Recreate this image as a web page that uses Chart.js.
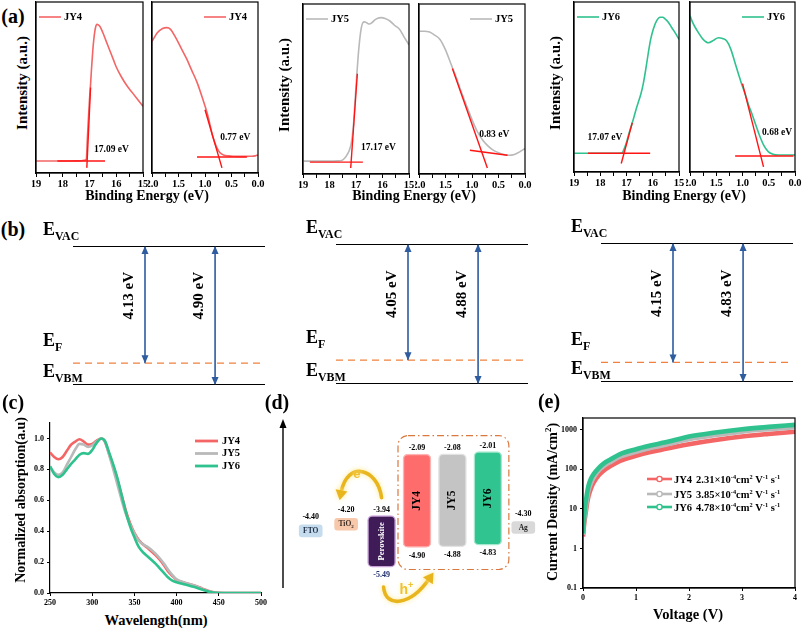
<!DOCTYPE html>
<html><head><meta charset="utf-8"><title>UPS / energy levels / absorption / SCLC</title>
<script src="https://cdn.jsdelivr.net/npm/chart.js@4.4.1/dist/chart.umd.min.js"></script>
<style>
html,body{margin:0;padding:0;background:#fff;}
body{width:803px;height:629px;overflow:hidden;position:relative;}
canvas{position:absolute;}
.t{position:absolute;font-family:"Liberation Serif","Times New Roman",serif;font-weight:bold;white-space:nowrap;color:#000;line-height:1;}
</style></head><body>
<script>
const FONT = '"Liberation Serif","Times New Roman",serif';
const SANS = '"Liberation Sans",Arial,sans-serif';

// ================= DATA =================
// (a) UPS spectra (normalised intensity)
const upsJY4SecoE = [19, 18.5, 18, 17.5, 17.3, 17.2, 17.12, 17.08, 17.04, 17.0, 16.96, 16.92, 16.88, 16.84, 16.8, 16.76, 16.72, 16.66, 16.6, 16.5, 16.4, 16.3, 16.2, 16.1, 16.0, 15.8, 15.6, 15.4, 15.2, 15.0];
const upsJY4SecoI = [0.07, 0.07, 0.07, 0.071, 0.072, 0.074, 0.08, 0.2, 0.32, 0.43, 0.52, 0.62, 0.71, 0.78, 0.83, 0.86, 0.87, 0.865, 0.855, 0.82, 0.78, 0.74, 0.70, 0.66, 0.62, 0.56, 0.51, 0.47, 0.43, 0.39];
const upsJY4VbE = [2.0, 1.9, 1.8, 1.72, 1.65, 1.55, 1.45, 1.35, 1.25, 1.15, 1.05, 0.95, 0.85, 0.78, 0.72, 0.65, 0.55, 0.45, 0.35, 0.25, 0.15, 0.05, 0.0];
const upsJY4VbI = [0.77, 0.82, 0.845, 0.85, 0.84, 0.79, 0.73, 0.67, 0.60, 0.53, 0.44, 0.34, 0.21, 0.15, 0.12, 0.105, 0.10, 0.098, 0.097, 0.097, 0.098, 0.10, 0.105];
const upsJY5SecoE = [19, 18.5, 18, 17.7, 17.54, 17.45, 17.35, 17.25, 17.18, 17.1, 17.04, 16.98, 16.92, 16.86, 16.8, 16.74, 16.68, 16.6, 16.5, 16.4, 16.3, 16.2, 16.05, 15.9, 15.72, 15.55, 15.35, 15.2, 15.0];
const upsJY5SecoI = [0.076, 0.076, 0.076, 0.077, 0.08, 0.09, 0.11, 0.14, 0.18, 0.28, 0.42, 0.56, 0.69, 0.79, 0.86, 0.89, 0.895, 0.89, 0.882, 0.89, 0.905, 0.915, 0.92, 0.915, 0.90, 0.875, 0.85, 0.81, 0.76];
const upsJY5VbE = [2.0, 1.9, 1.8, 1.72, 1.6, 1.5, 1.4, 1.3, 1.2, 1.1, 1.0, 0.9, 0.8, 0.7, 0.6, 0.5, 0.4, 0.3, 0.2, 0.1, 0.0];
const upsJY5VbI = [0.84, 0.84, 0.835, 0.82, 0.79, 0.73, 0.65, 0.57, 0.48, 0.40, 0.32, 0.25, 0.20, 0.165, 0.14, 0.125, 0.115, 0.11, 0.115, 0.13, 0.15];
const upsJY6SecoE = [19, 18.5, 18, 17.5, 17.17, 17.08, 16.99, 16.9, 16.8, 16.74, 16.65, 16.55, 16.45, 16.36, 16.27, 16.17, 16.08, 15.98, 15.85, 15.72, 15.62, 15.53, 15.4, 15.28, 15.15, 15.0];
const upsJY6SecoI = [0.11, 0.11, 0.11, 0.11, 0.112, 0.14, 0.18, 0.23, 0.28, 0.31, 0.36, 0.41, 0.46, 0.52, 0.60, 0.70, 0.78, 0.84, 0.89, 0.91, 0.91, 0.90, 0.88, 0.85, 0.82, 0.78];
const upsJY6VbE = [2.0, 1.95, 1.9, 1.84, 1.75, 1.65, 1.55, 1.46, 1.38, 1.3, 1.22, 1.14, 1.08, 1.02, 0.95, 0.88, 0.83, 0.75, 0.67, 0.6, 0.51, 0.42, 0.32, 0.2, 0.1, 0.0];
const upsJY6VbI = [0.92, 0.88, 0.85, 0.82, 0.78, 0.76, 0.775, 0.79, 0.785, 0.77, 0.72, 0.64, 0.58, 0.52, 0.46, 0.39, 0.35, 0.28, 0.21, 0.16, 0.12, 0.105, 0.10, 0.10, 0.10, 0.10];
// tangent lines [E1, I1, E2, I2]
const upsJY4SecoTan = [[18.2, 0.07, 16.42, 0.07], [16.96, 0.50, 17.10, 0.03]];
const upsJY4VbTan   = [[1.15, 0.094, 0.21, 0.094], [1.00, 0.37, 0.68, 0.03]];
const upsJY5SecoTan = [[18.74, 0.07, 16.74, 0.07], [16.95, 0.59, 17.20, 0.035]];
const upsJY5VbTan   = [[1.37, 0.62, 0.71, 0.035], [1.04, 0.14, 0.33, 0.11]];
const upsJY6SecoTan = [[18.47, 0.11, 16.10, 0.11], [16.78, 0.29, 17.20, 0.05]];
const upsJY6VbTan   = [[1.00, 0.52, 0.60, 0.03], [1.14, 0.094, 0.03, 0.094]];
const upsSecoOnset = [17.09, 17.17, 17.07];
const upsVbOnset = [0.77, 0.83, 0.68];

// (b) energy levels (eV below vacuum)
const bSamples = ['JY4', 'JY5', 'JY6'];
const bWorkFunction = [4.13, 4.05, 4.15];
const bVBM = [4.90, 4.88, 4.83];

// (c) normalised absorption
const absWavelength = [250, 255, 260, 265, 270, 275, 280, 285, 290, 295, 300, 305, 311, 315, 320, 325, 330, 335, 340, 345, 350, 355, 360, 365, 370, 375, 380, 385, 390, 395, 400, 410, 420, 430, 440, 450, 460, 480, 500];
const absJY4 = [0.91, 0.88, 0.865, 0.88, 0.92, 0.96, 0.98, 0.995, 0.98, 0.96, 0.965, 0.985, 1.0, 0.98, 0.90, 0.82, 0.73, 0.63, 0.53, 0.45, 0.39, 0.345, 0.315, 0.295, 0.27, 0.245, 0.215, 0.18, 0.14, 0.11, 0.085, 0.065, 0.05, 0.03, 0.01, 0.002, 0, 0, 0];
const absJY5 = [0.82, 0.78, 0.765, 0.78, 0.83, 0.88, 0.93, 0.965, 0.96, 0.945, 0.955, 0.98, 1.0, 0.98, 0.895, 0.80, 0.70, 0.60, 0.51, 0.44, 0.385, 0.34, 0.315, 0.30, 0.28, 0.255, 0.225, 0.19, 0.15, 0.115, 0.088, 0.066, 0.05, 0.028, 0.008, 0.001, 0, 0, 0];
const absJY6 = [0.82, 0.77, 0.75, 0.765, 0.80, 0.835, 0.865, 0.895, 0.905, 0.90, 0.925, 0.97, 1.0, 0.985, 0.91, 0.83, 0.74, 0.63, 0.52, 0.43, 0.36, 0.30, 0.265, 0.24, 0.215, 0.19, 0.16, 0.13, 0.10, 0.08, 0.07, 0.055, 0.04, 0.022, 0.006, 0, 0, 0, 0];

// (d) energy band alignment (eV)
const dMaterials = ['FTO', 'TiO2', 'Perovskite', 'JY4', 'JY5', 'JY6', 'Ag'];
const dWork = [-4.40, -4.20, null, null, null, null, -4.30];
const dLUMO = [null, null, -3.94, -2.09, -2.08, -2.01, null];
const dHOMO = [null, null, -5.49, -4.90, -4.88, -4.83, null];

// (e) SCLC J-V
const eVoltage = [0, 0.02, 0.04, 0.07, 0.1, 0.15, 0.2, 0.3, 0.4, 0.5, 0.7, 1.0, 1.25, 1.5, 1.75, 2.0, 2.5, 3.0, 3.5, 4.0];
const eJY4 = [2.0, 4.0, 6.3, 12, 20, 33, 46, 72, 96, 118, 165, 220, 270, 318, 375, 435, 555, 680, 790, 900];
const eJY5 = [2.2, 5, 8.5, 16, 28, 45, 62, 95, 125, 150, 210, 280, 345, 405, 490, 580, 740, 905, 1040, 1170];
const eJY6 = [2.4, 6, 11.5, 22, 37, 58, 76, 110, 145, 174, 245, 325, 395, 470, 560, 680, 860, 1040, 1190, 1340];
const eMobility = [2.31, 3.85, 4.78];
const eTicks = [0.1, 1, 10, 100, 1000];

// ================= STYLE =================
const COL = { JY4: '#f46565', JY5: '#b9b9b9', JY6: '#2fc28e' };
const TAN = '#ff1414';

// ================= HELPERS =================
function pts(xs, ys) { return xs.map((x, i) => ({ x: x, y: ys[i] })); }
function place(pl, pt, pr, pb, padL, padT, padR, padB) {
  const c = document.createElement('canvas');
  const w = Math.round((pr - pl) + padL + padR), h = Math.round((pb - pt) + padT + padB);
  c.width = w; c.height = h;
  c.style.left = (pl - padL) + 'px'; c.style.top = (pt - padT) + 'px';
  c.style.width = w + 'px'; c.style.height = h + 'px';
  document.body.appendChild(c);
  return c;
}
function fixW(w) { return s => { s.width = w; s.paddingTop = 0; s.paddingBottom = 0; }; }
function fixH(h) { return s => { s.height = h; s.paddingLeft = 0; s.paddingRight = 0; }; }
function txt(html, x, y, size, rot) {
  const d = document.createElement('div');
  d.className = 't'; d.innerHTML = html;
  d.style.left = x + 'px'; d.style.top = y + 'px'; d.style.fontSize = size + 'px';
  d.style.transform = 'translate(-50%,-50%)' + (rot ? ' rotate(-90deg)' : '');
  document.body.appendChild(d);
}
function frame(lw) {
  return { id: 'frame', afterDraw(ch) {
    const a = ch.chartArea, x = ch.ctx;
    x.save(); x.strokeStyle = '#000'; x.lineWidth = lw;
    x.strokeRect(a.left, a.top, a.right - a.left, a.bottom - a.top); x.restore();
  } };
}
function drawRich(ctx, x, y, str, size, ratio) {
  ratio = ratio || 0.62;
  const parts = []; const re = /([\^_])\{([^}]*)\}/g; let last = 0, m;
  while ((m = re.exec(str))) {
    if (m.index > last) parts.push([str.slice(last, m.index), 0]);
    parts.push([m[2], m[1] === '^' ? 1 : -1]); last = re.lastIndex;
  }
  if (last < str.length) parts.push([str.slice(last), 0]);
  let cx = x;
  ctx.textAlign = 'left'; ctx.textBaseline = 'alphabetic';
  for (const [t, k] of parts) {
    const s = k ? size * ratio : size;
    ctx.font = 'bold ' + s + 'px ' + FONT;
    const dy = k === 1 ? -size * 0.38 : (k === -1 ? size * 0.28 : 0);
    ctx.fillText(t, cx, y + dy);
    cx += ctx.measureText(t).width;
  }
  return cx - x;
}
const baseOpts = () => ({ responsive: false, devicePixelRatio: 1, animation: false, events: [],
  plugins: { legend: { display: false }, tooltip: { enabled: false } } });
const tickFont = s => ({ family: FONT, size: s, weight: 'bold' });

// ================= (a) UPS =================
const upsSpecs = [
  { box: [36, 2, 143, 173], lo: 15, hi: 19, step: 0.5, kind: 's', e: upsJY4SecoE, i: upsJY4SecoI, tan: upsJY4SecoTan, name: 'JY4', onset: upsSecoOnset[0], lab: [16.18, 0.135], legX: 3 },
  { box: [152, 2, 258, 173], lo: 0, hi: 2, step: 0.25, kind: 'v', e: upsJY4VbE, i: upsJY4VbI, tan: upsJY4VbTan, name: 'JY4', onset: upsVbOnset[0], lab: [0.43, 0.21], legX: 52 },
  { box: [303, 4, 409, 174], lo: 15, hi: 19, step: 0.5, kind: 's', e: upsJY5SecoE, i: upsJY5SecoI, tan: upsJY5SecoTan, name: 'JY5', onset: upsSecoOnset[1], lab: [16.15, 0.153], legX: 3 },
  { box: [419, 4, 525, 174], lo: 0, hi: 2, step: 0.25, kind: 'v', e: upsJY5VbE, i: upsJY5VbI, tan: upsJY5VbTan, name: 'JY5', onset: upsVbOnset[1], lab: [0.58, 0.235], legX: 51 },
  { box: [574, 2, 679, 172], lo: 15, hi: 19, step: 0.5, kind: 's', e: upsJY6SecoE, i: upsJY6SecoI, tan: upsJY6SecoTan, name: 'JY6', onset: upsSecoOnset[2], lab: [17.82, 0.2], legX: 3 },
  { box: [690, 2, 795, 172], lo: 0, hi: 2, step: 0.25, kind: 'v', e: upsJY6VbE, i: upsJY6VbI, tan: upsJY6VbTan, name: 'JY6', onset: upsVbOnset[2], lab: [0.34, 0.235], legX: 52 }
];
upsSpecs.forEach(sp => {
  const padL = 4, padT = 2, padR = 12, padB = 22;
  const c = place(sp.box[0], sp.box[1], sp.box[2], sp.box[3], padL, padT, padR, padB);
  const color = COL[sp.name];
  const ds = [{ data: pts(sp.e, sp.i), borderColor: color, borderWidth: 1.6, pointRadius: 0, cubicInterpolationMode: 'monotone', order: 5 }];
  sp.tan.forEach(tn => ds.push({ data: [{ x: tn[0], y: tn[1] }, { x: tn[2], y: tn[3] }], borderColor: TAN, borderWidth: 1.4, pointRadius: 0, order: 1 }));
  const fmt = sp.kind === 's'
    ? v => (Math.abs(v - Math.round(v)) < 1e-6 ? String(Math.round(v)) : '')
    : v => (Math.abs(v * 2 - Math.round(v * 2)) < 1e-6 ? v.toFixed(1) : '');
  const o = baseOpts();
  o.layout = { padding: { left: 0, top: padT, right: padR, bottom: 0 } };
  o.scales = {
    x: { type: 'linear', min: sp.lo, max: sp.hi, reverse: true, afterFit: fixH(padB),
      ticks: { stepSize: sp.step, autoSkip: false, maxRotation: 0, color: '#000', padding: 1, font: tickFont(10.5), callback: fmt },
      grid: { drawOnChartArea: false, tickLength: 4, color: '#000' }, border: { color: '#000', width: 1.2 } },
    y: { min: 0, max: 1, afterFit: fixW(padL), ticks: { display: false }, grid: { display: false }, border: { color: '#000', width: 1.2 } }
  };
  new Chart(c, { type: 'line', data: { datasets: ds }, options: o, plugins: [frame(1.2), { id: 'upsdeco', afterDraw(ch) {
    const ctx = ch.ctx, a = ch.chartArea;
    ctx.save();
    const lx = a.left + sp.legX, ly = a.top + 15;
    ctx.strokeStyle = color; ctx.lineWidth = 1.6;
    ctx.beginPath(); ctx.moveTo(lx, ly); ctx.lineTo(lx + 22, ly); ctx.stroke();
    ctx.fillStyle = '#000'; ctx.font = 'bold 10.5px ' + FONT; ctx.textBaseline = 'middle'; ctx.textAlign = 'left';
    ctx.fillText(sp.name, lx + 25, ly);
    ctx.font = 'bold 9.5px ' + FONT; ctx.textAlign = 'center';
    ctx.fillText(sp.onset.toFixed(2) + ' eV', ch.scales.x.getPixelForValue(sp.lab[0]), ch.scales.y.getPixelForValue(sp.lab[1]));
    ctx.restore();
  } }] });
});
txt('Intensity (a.u.)', 22, 83, 15, true);
txt('Intensity (a.u.)', 284, 85, 15, true);
txt('Intensity (a.u.)', 555, 83, 15, true);
txt('Binding Energy (eV)', 147, 196, 14);
txt('Binding Energy (eV)', 414, 196, 14);
txt('Binding Energy (eV)', 684, 196, 14);
txt('(a)', 13, 16, 20);

// ================= (b) energy diagrams =================
const bBoxes = [[73, 246, 265, 385], [336, 244, 528, 384], [601, 243, 793, 382]];
const ARROW_POS = [0.375, 0.74];
const ARROW_COL = '#2e5c9e';
bSamples.forEach((name, k) => {
  const wf = bWorkFunction[k], ip = bVBM[k], bx = bBoxes[k];
  const padL = 38, padT = 36, padR = 6, padB = 8;
  const c = place(bx[0], bx[1], bx[2], bx[3], padL, padT, padR, padB);
  const ds = [
    { data: [{ x: 0, y: 0 }, { x: 1, y: 0 }], borderColor: '#000', borderWidth: 1.8, pointRadius: 0 },
    { data: [{ x: 0, y: -wf }, { x: 1, y: -wf }], borderColor: '#f0813e', borderWidth: 1.3, borderDash: [7, 5], pointRadius: 0 },
    { data: [{ x: 0, y: -ip }, { x: 1, y: -ip }], borderColor: '#000', borderWidth: 1.8, pointRadius: 0 },
    { data: [{ x: ARROW_POS[0], y: 0 }, { x: ARROW_POS[0], y: -wf }], borderColor: ARROW_COL, borderWidth: 1.6, pointRadius: 0, arrow: true, lab: wf },
    { data: [{ x: ARROW_POS[1], y: 0 }, { x: ARROW_POS[1], y: -ip }], borderColor: ARROW_COL, borderWidth: 1.6, pointRadius: 0, arrow: true, lab: ip }
  ];
  const o = baseOpts();
  o.layout = { padding: { left: padL, top: padT, right: padR, bottom: padB } };
  o.scales = { x: { type: 'linear', min: 0, max: 1, display: false }, y: { min: -ip, max: 0, display: false } };
  new Chart(c, { type: 'line', data: { datasets: ds }, options: o, plugins: [{ id: 'lvl', afterDraw(ch) {
    const ctx = ch.ctx, a = ch.chartArea, ys = ch.scales.y;
    ctx.save();
    ch.data.datasets.forEach((d, i) => {
      if (!d.arrow) return;
      const p = ch.getDatasetMeta(i).data; const p0 = p[0], p1 = p[1];
      ctx.fillStyle = ARROW_COL;
      ctx.beginPath(); ctx.moveTo(p0.x, p0.y); ctx.lineTo(p0.x - 3.5, p0.y + 8); ctx.lineTo(p0.x + 3.5, p0.y + 8); ctx.closePath(); ctx.fill();
      ctx.beginPath(); ctx.moveTo(p1.x, p1.y); ctx.lineTo(p1.x - 3.5, p1.y - 8); ctx.lineTo(p1.x + 3.5, p1.y - 8); ctx.closePath(); ctx.fill();
      ctx.fillStyle = '#000';
      ctx.save(); ctx.translate(p0.x - 16, ys.getPixelForValue(-1.75)); ctx.rotate(-Math.PI / 2);
      ctx.font = 'bold 15px ' + FONT; ctx.textAlign = 'center'; ctx.textBaseline = 'middle';
      ctx.fillText(d.lab.toFixed(2) + ' eV', 0, 0); ctx.restore();
    });
    ctx.fillStyle = '#000';
    const lx = a.left - 30;
    drawRich(ctx, lx, ys.getPixelForValue(0) - 11, 'E_{VAC}', 18, 0.66);
    drawRich(ctx, lx, ys.getPixelForValue(-wf) - 17, 'E_{F}', 18, 0.66);
    drawRich(ctx, lx, ys.getPixelForValue(-ip) - 8, 'E_{VBM}', 18, 0.66);
    ctx.restore();
  } }] });
});
txt('(b)', 13, 229, 20);

// ================= (c) absorption =================
(function () {
  const padL = 40, padT = 8, padR = 10, padB = 16;
  const c = place(50, 423, 261, 593, padL, padT, padR, padB);
  const mk = (name, ys, ord) => ({ data: pts(absWavelength, ys), borderColor: COL[name], borderWidth: 2.6, pointRadius: 0, cubicInterpolationMode: 'monotone', order: ord, label: name });
  const o = baseOpts();
  o.layout = { padding: { left: 0, top: padT, right: padR, bottom: 0 } };
  const g = { drawOnChartArea: false, tickLength: 3, color: '#000' };
  o.scales = {
    x: { type: 'linear', min: 250, max: 500, afterFit: fixH(padB), ticks: { stepSize: 50, autoSkip: false, maxRotation: 0, color: '#000', padding: 2, font: tickFont(8) }, grid: g, border: { color: '#000', width: 1.2 } },
    y: { min: 0, max: 1.1, afterFit: fixW(padL), afterBuildTicks: s => { s.ticks = s.ticks.filter(t => t.value <= 1.0001); },
      ticks: { stepSize: 0.2, color: '#000', padding: 3, font: tickFont(8), callback: v => v.toFixed(1) }, grid: g, border: { color: '#000', width: 1.2 } }
  };
  const ds = [mk('JY4', absJY4, 3), mk('JY5', absJY5, 2), mk('JY6', absJY6, 1)];
  new Chart(c, { type: 'line', data: { datasets: ds }, options: o, plugins: [{ id: 'leg', afterDraw(ch) {
    const ctx = ch.ctx, a = ch.chartArea; const offs = [18, 30.5, 43];
    ctx.save();
    ['JY4', 'JY5', 'JY6'].forEach((n, i) => {
      const y = a.top + offs[i], x = a.left + 145;
      ctx.strokeStyle = COL[n]; ctx.lineWidth = 2.8;
      ctx.beginPath(); ctx.moveTo(x, y); ctx.lineTo(x + 23, y); ctx.stroke();
      ctx.fillStyle = '#000'; ctx.font = 'bold 10.5px ' + FONT; ctx.textBaseline = 'middle'; ctx.textAlign = 'left';
      ctx.fillText(n, x + 27, y);
    });
    ctx.restore();
  } }] });
})();
txt('Normalized absorption(a.u)', 21, 500, 14, true);
txt('Wavelength(nm)', 156, 620, 14.5);
txt('(c)', 13, 402, 20);

// ================= (d) band alignment =================
(function () {
  const padL = 25, padT = 8, padR = 4, padB = 30;
  const c = place(293, 418, 541, 584, padL, padT, padR, padB);
  const smallCol = ['#c5dcee', '#f8c8aa', null, null, null, null, '#d9d9d9'];
  const bigCol = [null, null, '#3f1b57', '#fe6c6c', '#c4c4c4', '#30c490', null];
  const bigBorder = [null, null, '#c9a3d8', '#ffb4b4', '#e2e2e2', '#a6e8cf', null];
  const half = 0.18;
  const ds = [
    { data: dWork.map(v => (v == null ? null : [v - half, v + half])), backgroundColor: smallCol, barThickness: 23, borderRadius: 3, borderSkipped: false, grouped: false },
    { data: dLUMO.map((v, i) => (v == null ? null : [dHOMO[i], v])), backgroundColor: bigCol, borderColor: bigBorder, borderWidth: 1.5, barThickness: 28, borderRadius: 5, borderSkipped: false, grouped: false }
  ];
  const o = baseOpts();
  o.layout = { padding: { left: padL, top: padT, right: padR, bottom: padB } };
  o.scales = { x: { display: false, offset: true }, y: { display: false, min: -6, max: -1 } };
  function arrowCurve(ctx, S, C1, C2, E) {
    ctx.save();
    ctx.strokeStyle = '#e9b51e'; ctx.fillStyle = '#e9b51e'; ctx.lineWidth = 3.6; ctx.lineCap = 'round';
    ctx.shadowColor = 'rgba(255,232,140,0.95)'; ctx.shadowBlur = 5;
    ctx.beginPath(); ctx.moveTo(S.x, S.y); ctx.bezierCurveTo(C1.x, C1.y, C2.x, C2.y, E.x, E.y); ctx.stroke();
    const dx = E.x - C2.x, dy = E.y - C2.y, L = Math.hypot(dx, dy), ux = dx / L, uy = dy / L, px = -uy, py = ux;
    ctx.beginPath(); ctx.moveTo(E.x + ux * 8, E.y + uy * 8);
    ctx.lineTo(E.x + px * 6 - ux * 2, E.y + py * 6 - uy * 2); ctx.lineTo(E.x - px * 6 - ux * 2, E.y - py * 6 - uy * 2);
    ctx.closePath(); ctx.fill();
    ctx.restore();
  }
  new Chart(c, { type: 'bar', data: { labels: dMaterials, datasets: ds }, options: o, plugins: [{ id: 'band', afterDraw(ch) {
    const ctx = ch.ctx, a = ch.chartArea;
    const m0 = ch.getDatasetMeta(0).data, m1 = ch.getDatasetMeta(1).data;
    const bx = el => { const p = el.getProps(['x', 'y', 'base', 'width'], true); return { x: p.x, top: Math.min(p.y, p.base), bot: Math.max(p.y, p.base), l: p.x - p.width / 2, r: p.x + p.width / 2 }; };
    const B = dMaterials.map((n, i) => (dWork[i] != null ? bx(m0[i]) : bx(m1[i])));
    ctx.save();
    // energy axis arrow
    const ax = a.left - 10;
    ctx.strokeStyle = '#000'; ctx.fillStyle = '#000'; ctx.lineWidth = 1.4;
    ctx.beginPath(); ctx.moveTo(ax, a.bottom + 4); ctx.lineTo(ax, a.top + 8); ctx.stroke();
    ctx.beginPath(); ctx.moveTo(ax, a.top + 1); ctx.lineTo(ax - 3.5, a.top + 10); ctx.lineTo(ax + 3.5, a.top + 10); ctx.closePath(); ctx.fill();
    // dash-dot frame around HTMs
    const rl = B[3].l - 5, rr = B[5].r + 7;
    const rt = Math.min(B[3].top, B[4].top, B[5].top) - 16, rb = Math.max(B[3].bot, B[4].bot, B[5].bot) + 22, rad = 10;
    ctx.strokeStyle = '#d9793f'; ctx.lineWidth = 1.2; ctx.setLineDash([7, 3, 1.5, 3]);
    ctx.beginPath();
    ctx.moveTo(rl + rad, rt); ctx.lineTo(rr - rad, rt); ctx.arcTo(rr, rt, rr, rt + rad, rad);
    ctx.lineTo(rr, rb - rad); ctx.arcTo(rr, rb, rr - rad, rb, rad);
    ctx.lineTo(rl + rad, rb); ctx.arcTo(rl, rb, rl, rb - rad, rad);
    ctx.lineTo(rl, rt + rad); ctx.arcTo(rl, rt, rl + rad, rt, rad); ctx.closePath(); ctx.stroke();
    ctx.setLineDash([]);
    // level values
    ctx.textAlign = 'center'; ctx.textBaseline = 'middle'; ctx.font = 'bold 8px ' + FONT;
    dMaterials.forEach((n, i) => {
      const b = B[i];
      if (dWork[i] != null) { ctx.fillStyle = '#000'; ctx.fillText(dWork[i].toFixed(2), b.x, b.top - 8); }
      else {
        ctx.fillStyle = '#000'; ctx.fillText(dLUMO[i].toFixed(2), b.x, b.top - 6);
        ctx.fillStyle = i === 2 ? '#22306e' : '#000'; ctx.fillText(dHOMO[i].toFixed(2), b.x, b.bot + 8);
      }
    });
    // names
    const mid = b => (b.top + b.bot) / 2;
    ctx.fillStyle = '#1d2b45'; ctx.font = 'bold 7.5px ' + FONT;
    ctx.fillText('FTO', B[0].x, mid(B[0]) + 0.5);
    ctx.fillStyle = '#3a2a20';
    ctx.font = 'bold 7.5px ' + FONT; const w1 = ctx.measureText('TiO').width;
    ctx.font = 'bold 5px ' + FONT; const w2 = ctx.measureText('2').width;
    const tx = B[1].x - (w1 + w2) / 2;
    ctx.textAlign = 'left'; ctx.font = 'bold 7.5px ' + FONT; ctx.fillText('TiO', tx, mid(B[1]));
    ctx.font = 'bold 5px ' + FONT; ctx.fillText('2', tx + w1, mid(B[1]) + 2.5);
    ctx.textAlign = 'center'; ctx.fillStyle = '#222'; ctx.font = 'bold 7.5px ' + FONT;
    ctx.fillText('Ag', B[6].x, mid(B[6]) + 0.5);
    const vert = (s, b, col, size) => { ctx.save(); ctx.translate(b.x, mid(b)); ctx.rotate(-Math.PI / 2); ctx.fillStyle = col; ctx.font = 'bold ' + size + 'px ' + FONT; ctx.textAlign = 'center'; ctx.textBaseline = 'middle'; ctx.fillText(s, 0, 0); ctx.restore(); };
    vert('Perovskite', B[2], '#ffffff', 8.5);
    vert('JY4', B[3], '#000', 11.5); vert('JY5', B[4], '#000', 11.5); vert('JY6', B[5], '#000', 11.5);
    // charge transfer arrows
    const P = B[2], T = B[1], J = B[3];
    const S1 = { x: P.x, y: P.top - 18 }, E1 = { x: T.x - 5, y: T.top - 26 };
    arrowCurve(ctx, S1, { x: S1.x - 4, y: S1.y - 30 }, { x: E1.x + 6, y: E1.y - 32 }, E1);
    const S2 = { x: P.x + 2, y: P.bot + 20 }, E2 = { x: J.x + 12, y: P.bot + 12 };
    arrowCurve(ctx, S2, { x: S2.x + 2, y: S2.y + 22 }, { x: E2.x - 18, y: E2.y + 26 }, E2);
    ctx.save();
    ctx.fillStyle = '#f0c030'; ctx.shadowColor = 'rgba(255,240,170,1)'; ctx.shadowBlur = 4;
    ctx.textAlign = 'left'; ctx.textBaseline = 'alphabetic';
    const ey = Math.min(S1.y, E1.y) - 14, exx = (S1.x + E1.x) / 2 - 8;
    ctx.font = 'bold 13px ' + SANS; ctx.fillText('e', exx, ey);
    let ew = ctx.measureText('e').width; ctx.font = 'bold 8px ' + SANS; ctx.fillText('-', exx + ew + 0.5, ey - 6);
    const hx = S2.x + 16, hy = S2.y + 7;
    ctx.font = 'bold 14px ' + SANS; ctx.fillText('h', hx, hy);
    ew = ctx.measureText('h').width; ctx.font = 'bold 9px ' + SANS; ctx.fillText('+', hx + ew, hy - 6);
    ctx.restore();
    ctx.restore();
  } }] });
})();
txt('(d)', 277, 402, 20);

// ================= (e) SCLC =================
(function () {
  const padL = 30, padT = 6, padR = 7, padB = 16;
  const c = place(583, 418, 795, 588, padL, padT, padR, padB);
  const mk = (name, ys, ord) => ({ data: pts(eVoltage, ys), borderColor: COL[name], borderWidth: 4.6, pointRadius: 0, cubicInterpolationMode: 'monotone', order: ord });
  const o = baseOpts();
  o.layout = { padding: { left: 0, top: padT, right: padR, bottom: 0 } };
  const g = { drawOnChartArea: false, tickLength: 3, color: '#000' };
  o.scales = {
    x: { type: 'linear', min: 0, max: 4, afterFit: fixH(padB), ticks: { stepSize: 1, autoSkip: false, maxRotation: 0, color: '#000', padding: 2, font: tickFont(8) }, grid: g, border: { color: '#000', width: 1.2 } },
    y: { type: 'logarithmic', min: 0.1, max: 2000, afterFit: fixW(padL), afterBuildTicks: s => { s.ticks = eTicks.map(v => ({ value: v })); },
      ticks: { autoSkip: false, color: '#000', padding: 3, font: tickFont(8), callback: v => (v < 1 ? v.toFixed(1) : String(Math.round(v))) }, grid: g, border: { color: '#000', width: 1.2 } }
  };
  const names = ['JY4', 'JY5', 'JY6'];
  const ds = [mk('JY4', eJY4, 3), mk('JY5', eJY5, 2), mk('JY6', eJY6, 1)];
  new Chart(c, { type: 'line', data: { datasets: ds }, options: o, plugins: [frame(1.2), { id: 'leg', afterDraw(ch) {
    const ctx = ch.ctx, a = ch.chartArea; const offs = [61, 76, 89];
    ctx.save();
    names.forEach((n, i) => {
      const y = a.top + offs[i], x = a.left + 64;
      ctx.strokeStyle = COL[n]; ctx.lineWidth = 2.6;
      ctx.beginPath(); ctx.moveTo(x, y); ctx.lineTo(x + 25, y); ctx.stroke();
      ctx.fillStyle = '#fff'; ctx.lineWidth = 1.4;
      ctx.beginPath(); ctx.arc(x + 12.5, y, 2.6, 0, Math.PI * 2); ctx.fill(); ctx.stroke();
      ctx.fillStyle = '#000';
      drawRich(ctx, x + 27, y + 3.6, n, 10.5);
      drawRich(ctx, x + 49, y + 3.6, eMobility[i].toFixed(2) + '\u00d710^{-4}cm^{2} V^{-1} s^{-1}', 10.5, 0.6);
    });
    ctx.restore();
  } }] });
})();
txt('Current Density (mA/cm<sup style="font-size:9px">2</sup>)', 552, 502, 14, true);
txt('Voltage (V)', 688, 614, 14.5);
txt('(e)', 549, 401, 20);
</script>
</body></html>
